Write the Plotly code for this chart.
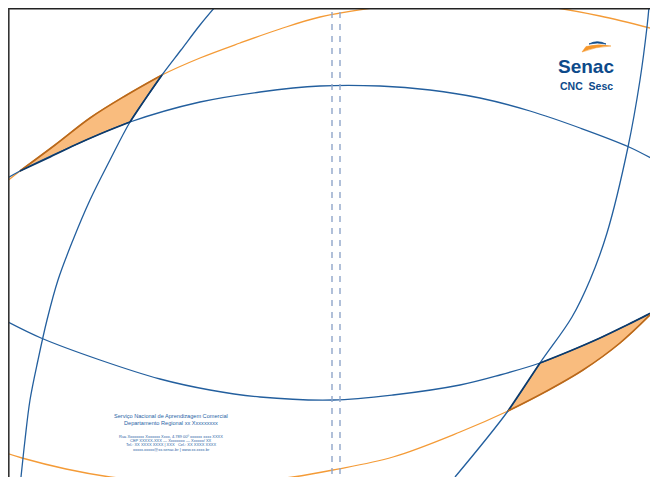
import plotly.graph_objects as go

# curve points (screen pixels, y grows downward)
orange_top_x = [6, 20, 55, 90, 125, 162, 200, 240, 280, 320, 380, 420, 465, 510, 550, 600, 658]
orange_top_y = [182, 171, 145, 118, 96, 75, 58, 43, 29, 17, 7, 3, 1, 3, 7, 16, 30]

blue_top_x = [6, 20, 75, 130, 200, 260, 320, 380, 430, 480, 530, 580, 629, 658]
blue_top_y = [179, 171, 145, 122, 102, 92, 86, 86, 90, 98, 111, 128, 147, 162]

blue_left_x = [215, 200, 181, 162, 146, 130, 110, 90, 73, 58, 47, 38, 30, 25, 21]
blue_left_y = [7, 25, 50, 75, 98, 122, 160, 200, 240, 280, 320, 360, 400, 440, 477]

blue_low_x = [6, 41, 100, 160, 210, 260, 333, 393, 460, 500, 540, 570, 600, 627, 653, 658]
blue_low_y = [321, 338, 360, 379, 390, 397, 400, 395, 385, 375, 363, 351, 338, 325, 312, 310]

orange_low_x = [6, 22, 66, 110, 156, 202, 250, 293, 333, 393, 460, 508, 545, 583, 620, 653, 658]
orange_low_y = [453, 458, 469, 477, 482, 484, 482, 477, 470, 457, 432, 411, 392, 370, 343, 312, 307]

blue_right_x = [649, 647, 640, 628, 607, 590, 572, 540, 508, 455]
blue_right_y = [7, 27, 80, 147, 233, 280, 317, 363, 411, 477]

# lens shaped orange patches, edge by edge
lens1_edges = [
    ([20, 55, 90, 125, 162], [171, 145, 118, 96, 75], "orange"),
    ([162, 146, 130], [75, 98, 122], "blue"),
    ([130, 100, 75, 48, 20], [122, 134, 145, 158, 171], "blue"),
]
lens2_edges = [
    ([508, 540], [411, 363], "blue"),
    ([540, 570, 600, 627, 653], [363, 351, 338, 325, 312], "blue"),
    ([653, 620, 583, 545, 508], [312, 343, 370, 392, 411], "orange"),
]

fold_x = [332, 340]

BLUE = "#235f9e"
ORANGE = "#f49b37"
FILL = "#f9bc7e"
EDGE = {"blue": "#0d3a6a", "orange": "#b8681c"}

fig = go.Figure()

for edges in [lens1_edges, lens2_edges]:
    xs, ys = [], []
    for ex, ey, _ in edges:
        xs += ex
        ys += ey
    fig.add_trace(go.Scatter(x=xs, y=ys, mode="lines", fill="toself", fillcolor=FILL,
                             line=dict(width=0)))

for xs, ys, col in [(orange_top_x, orange_top_y, ORANGE), (orange_low_x, orange_low_y, ORANGE),
                    (blue_top_x, blue_top_y, BLUE), (blue_left_x, blue_left_y, BLUE),
                    (blue_low_x, blue_low_y, BLUE), (blue_right_x, blue_right_y, BLUE)]:
    fig.add_trace(go.Scatter(x=xs, y=ys, mode="lines",
                             line=dict(color=col, width=1.3, shape="spline", smoothing=1)))

for edges in [lens1_edges, lens2_edges]:
    for ex, ey, kind in edges:
        fig.add_trace(go.Scatter(x=ex, y=ey, mode="lines",
                                 line=dict(color=EDGE[kind], width=1.6, shape="spline", smoothing=1)))

for fx in fold_x:
    fig.add_trace(go.Scatter(x=[fx, fx], y=[12, 485], mode="lines",
                             line=dict(color="#8fa5c9", width=1.4, dash="6px,6px")))

# page frame (top and left edges), drawn over the curves
fig.add_shape(type="rect", x0=8, x1=700, y0=8, y1=8.2, fillcolor="white", line_width=0, layer="above")
fig.add_shape(type="line", x0=8, x1=700, y0=8.8, y1=8.8, line=dict(color="#222", width=1.6), layer="above")
fig.add_shape(type="line", x0=8.8, x1=8.8, y0=8, y1=500, line=dict(color="#333", width=1.6), layer="above")

# logo swoosh
fig.add_shape(type="path", path="M 582,52 L 586,46.5 Q 598,43.5 611,46 Q 596,46.5 582,52 Z",
              fillcolor="#f5962a", line=dict(color="#f5962a", width=0.5), layer="above")
fig.add_shape(type="path", path="M 589,44 Q 597,39.5 606,44 Q 597,42 589,44 Z",
              fillcolor="#0d4a8a", line=dict(color="#0d4a8a", width=0.8), layer="above")

fig.add_annotation(x=586, y=66, text="<b>Senac</b>", showarrow=False,
                   font=dict(family="Liberation Sans", size=19, color="#0d4a8a"))
fig.add_annotation(x=586, y=86, text="<b>CNC  Sesc</b>", showarrow=False,
                   font=dict(family="Liberation Sans", size=10.5, color="#0d4a8a"))

TXT = "#2a64a6"
fig.add_annotation(x=171, y=416, text="Serviço Nacional de Aprendizagem Comercial", showarrow=False,
                   font=dict(family="Liberation Sans", size=5.6, color=TXT))
fig.add_annotation(x=171, y=423, text="Departamento Regional xx Xxxxxxxxx", showarrow=False,
                   font=dict(family="Liberation Sans", size=5.6, color=TXT))
small = ["Rua Xxxxxxxx Xxxxxxx Xxxx, 4.789 00º xxxxxx xxxx XXXX",
         "CEP XXXXX-XXX — Xxxxxxxx — Xxxxxx/ XX",
         "Tel.: XX XXXX XXXX | XXX   Cel.: XX XXXX XXXX",
         "xxxxx.xxxxx@xx.senac.br | www.xx.xxxx.br"]
for i, line in enumerate(small):
    fig.add_annotation(x=171, y=436.5 + i * 4.2, text=line, showarrow=False,
                       font=dict(family="Liberation Sans", size=4, color=TXT))

# the page body has an 8px margin, so shift the ranges to keep data == screen pixels
fig.update_xaxes(range=[8, 666], visible=False, fixedrange=True)
fig.update_yaxes(range=[485, 8], visible=False, fixedrange=True)
fig.update_layout(width=658, height=477, autosize=False, margin=dict(l=0, r=0, t=0, b=0),
                  plot_bgcolor="white", paper_bgcolor="white", showlegend=False, hovermode=False)

fig.write_html("out.html")
